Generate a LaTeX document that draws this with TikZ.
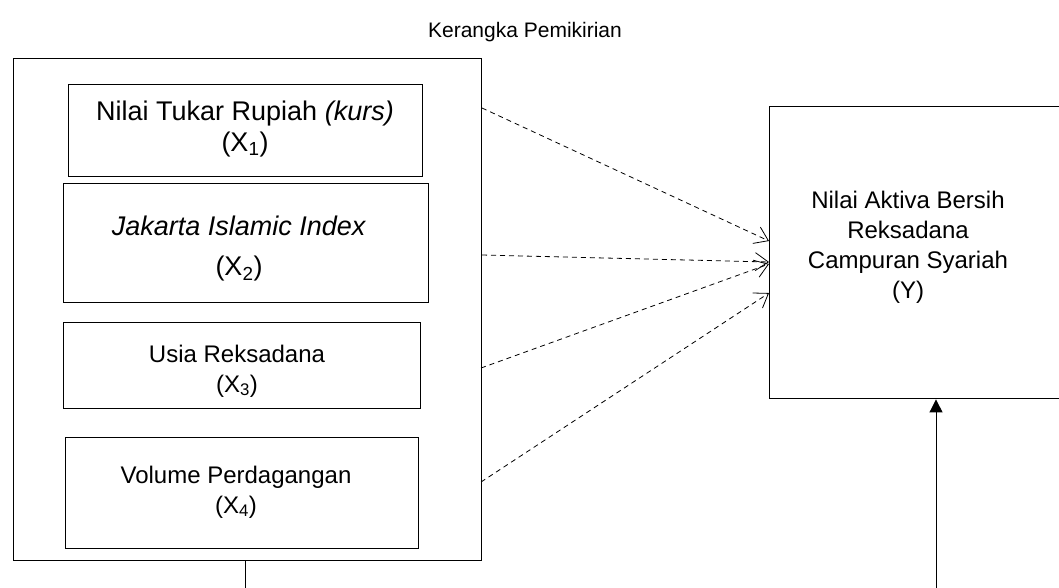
\documentclass[tikz,border=0pt]{standalone}
\usepackage{fontspec}
\setmainfont{Liberation Sans}
\usetikzlibrary{arrows.meta}
\begin{document}
\begin{tikzpicture}[x=1pt,y=-1pt,
  box/.style={draw,line width=1.4pt,anchor=north west,inner sep=0pt},
  lbl/.style={align=center,inner sep=0pt,font=\fontsize{24}{30}\selectfont},
  biglbl/.style={align=center,inner sep=0pt,font=\fontsize{27}{31}\selectfont},
  dasharrow/.style={draw,line width=0.8pt,dash pattern=on 5pt off 4pt,
    -{Straight Barb[length=13pt,width=18pt,line width=0.8pt]}},
  solidarrow/.style={draw,line width=0.9pt,-{Triangle[length=13pt,width=13pt]}},
  plain/.style={draw,line width=0.9pt}]
\useasboundingbox (0,0) rectangle (1059,587);
\clip (0,0) rectangle (1059,587);
\node[font=\fontsize{21}{25}\selectfont] (title) at (525,32) {Kerangka Pemikirian};
\node[box,minimum width=468pt,minimum height=502pt] (outer) at (13,58) {};
\node[box,minimum width=354pt,minimum height=92pt] (x1) at (68,84) {};
\node[box,minimum width=365pt,minimum height=119pt] (x2) at (63,183) {};
\node[box,minimum width=357pt,minimum height=86pt] (x3) at (63,322) {};
\node[box,minimum width=353pt,minimum height=111pt] (x4) at (65,437) {};
\node[box,minimum width=320pt,minimum height=292pt] (y) at (769,106) {};
\node[biglbl] (x1t) at (245,129) {Nilai Tukar Rupiah \textit{(kurs)}\\(X\textsubscript{1})};
\node[biglbl] (x2t) at (239,249) {\textit{Jakarta Islamic Index}\\[9pt](X\textsubscript{2})};
\node[lbl] (x3t) at (237,371) {Usia Reksadana\\(X\textsubscript{3})};
\node[lbl] (x4t) at (236,492) {Volume Perdagangan\\(X\textsubscript{4})};
\node[lbl] (ytext) at (908,247) {Nilai Aktiva Bersih\\Reksadana\\Campuran Syariah\\(Y)};
% dashed connectors
\coordinate (s1) at (482,108);
\coordinate (s2) at (482,255);
\coordinate (s3) at (481,368);
\coordinate (s4) at (481,482);
\coordinate (e1) at (769,241);
\coordinate (e2) at (769,262);
\coordinate (e3) at (769,264);
\coordinate (e4) at (769,293);
\draw[dasharrow] (s1) -- (e1);
\draw[dasharrow] (s2) -- (e2);
\draw[dasharrow] (s3) -- (e3);
\draw[dasharrow] (s4) -- (e4);
% bottom connectors
\coordinate (bl) at (245,590);
\coordinate (br) at (936,590);
\draw[plain] (outer.south -| bl) -- (bl);
\draw[solidarrow] (br) -- (y.south -| br);
\end{tikzpicture}
\end{document}
